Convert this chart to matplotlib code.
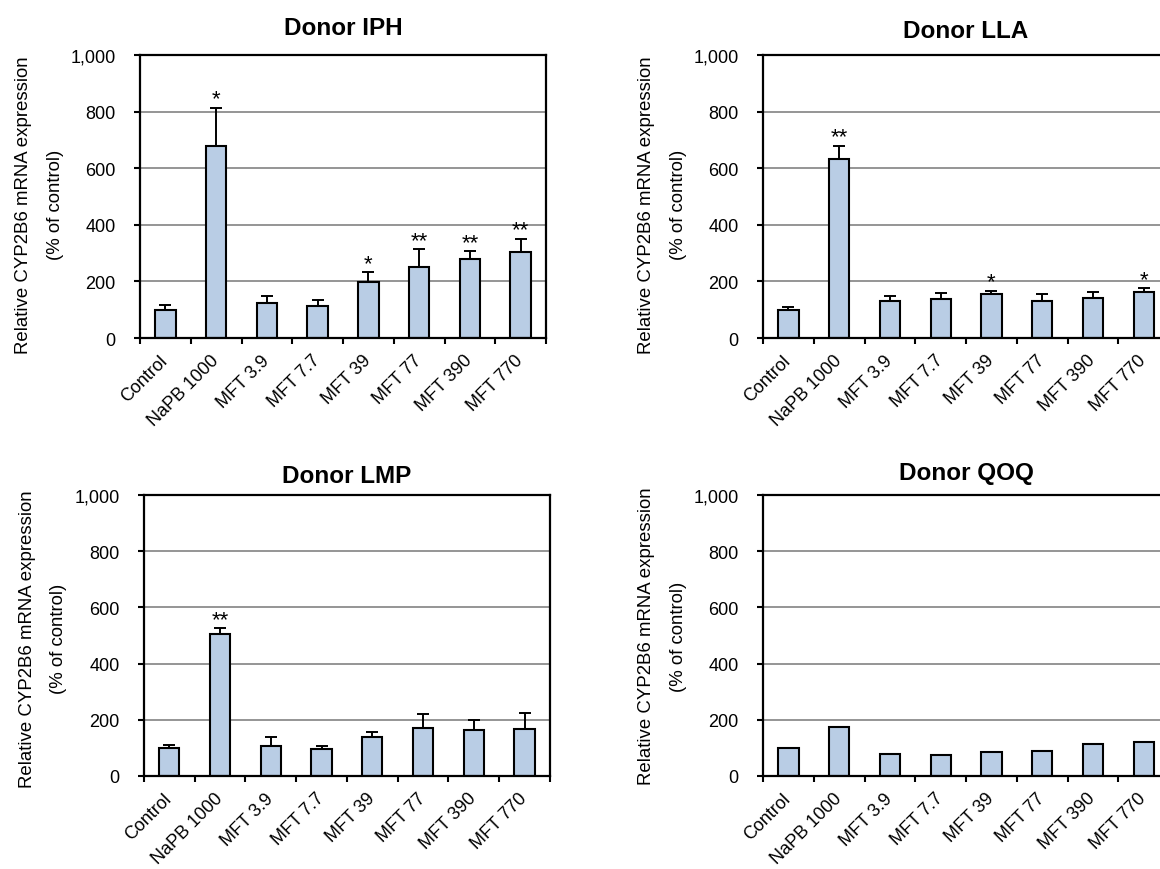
import matplotlib
matplotlib.use("Agg")
import matplotlib.pyplot as plt
from matplotlib.ticker import FuncFormatter, FixedLocator

plt.rcParams['font.family'] = ['Liberation Sans', 'DejaVu Sans']

# treatment groups (concentrations in uM)
groups = ["Control", "NaPB 1000", "MFT 3.9", "MFT 7.7", "MFT 39", "MFT 77", "MFT 390", "MFT 770"]

# CYP2B6 mRNA, % of control (mean and SD) per donor
iph_mean = [100, 677, 124, 112, 198, 251, 279, 304]
iph_sd = [18, 136, 23, 21, 34, 63, 27, 46]
iph_sig = ["", "*", "", "", "*", "**", "**", "**"]

lla_mean = [100, 631, 130, 138, 156, 130, 140, 164]
lla_sd = [9, 49, 19, 21, 10, 26, 23, 12]
lla_sig = ["", "**", "", "", "*", "", "", "*"]

lmp_mean = [101, 504, 105, 97, 137, 172, 165, 167]
lmp_sd = [10, 22, 34, 9, 19, 49, 36, 56]
lmp_sig = ["", "**", "", "", "", "", "", ""]

qoq_mean = [100, 173, 78, 75, 86, 89, 114, 122]

bar_color = "#b9cde5"
grid_color = "#8c8c8c"

fig = plt.figure(figsize=(11.6, 8.7), dpi=100)

# axes boxes in figure fractions; right-hand panels run past the page edge
boxes = {
    "IPH": [0.1207, 0.6103, 0.350, 0.3253],
    "LLA": [0.6578, 0.6103, 0.350, 0.3253],
    "LMP": [0.1241, 0.1069, 0.350, 0.3230],
    "QOQ": [0.6578, 0.1069, 0.350, 0.3230],
}
title_pads = {"IPH": 15, "LLA": 13, "LMP": 9.5, "QOQ": 11.5}
ylabel_y = {"IPH": 0.474, "LLA": 0.474, "LMP": 0.49, "QOQ": 0.5}


def draw_panel(ax, name, mean, sd=None, sig=None):
    x = [i + 0.5 for i in range(len(groups))]
    ax.set_xlim(0, len(groups))
    ax.set_ylim(0, 1000)

    for y in [200, 400, 600, 800]:
        ax.axhline(y, color=grid_color, lw=1.3, zorder=0)

    ax.bar(x, mean, width=0.4, color=bar_color, edgecolor="black", linewidth=1.5, zorder=2)

    if sd is not None:
        ax.errorbar(x, mean, yerr=[[0] * len(sd), sd], fmt="none", ecolor="black",
                    elinewidth=1.4, capsize=4, capthick=1.4, zorder=3)
    if sig is not None:
        for xi, m, s, mark in zip(x, mean, sd, sig):
            if mark:
                ax.annotate(mark, (xi, m + s), xytext=(0, 2.5), textcoords="offset points",
                            ha="center", va="baseline", fontsize=16)

    # ticks sit between the groups, labels under the bars
    ax.xaxis.set_major_locator(FixedLocator(range(len(groups) + 1)))
    ax.xaxis.set_major_formatter(FuncFormatter(lambda v, p: ""))
    ax.set_xticks(x, groups, minor=True)
    ax.tick_params(axis="x", which="major", direction="out", length=4.5, width=1.5, color="black")
    ax.tick_params(axis="x", which="minor", length=0, pad=14, labelsize=13)
    for lab in ax.get_xticklabels(minor=True):
        lab.set_rotation(45)
        lab.set_ha("right")
        lab.set_va("center")
        lab.set_rotation_mode("anchor")

    ax.set_yticks([0, 200, 400, 600, 800, 1000])
    ax.yaxis.set_major_formatter(FuncFormatter(lambda v, p: f"{v:,.0f}"))
    ax.tick_params(axis="y", direction="out", length=4.5, width=1.5, labelsize=13, pad=13)

    for sp in ax.spines.values():
        sp.set_linewidth(1.6)
        sp.set_color("black")
    ax.spines["left"].set_zorder(4)
    ax.spines["bottom"].set_zorder(4)

    ax.set_ylabel("Relative CYP2B6 mRNA expression\n(% of control)", fontsize=13.4,
                  linespacing=2.1, labelpad=5)
    ax.yaxis.label.set_y(ylabel_y[name])
    ax.set_title("Donor " + name, fontsize=17.5, fontweight="bold", pad=title_pads[name])


ax = fig.add_axes(boxes["IPH"])
draw_panel(ax, "IPH", iph_mean, iph_sd, iph_sig)
ax = fig.add_axes(boxes["LLA"])
draw_panel(ax, "LLA", lla_mean, lla_sd, lla_sig)
ax = fig.add_axes(boxes["LMP"])
draw_panel(ax, "LMP", lmp_mean, lmp_sd, lmp_sig)
ax = fig.add_axes(boxes["QOQ"])
draw_panel(ax, "QOQ", qoq_mean)

fig.savefig("out.png", dpi=100)
